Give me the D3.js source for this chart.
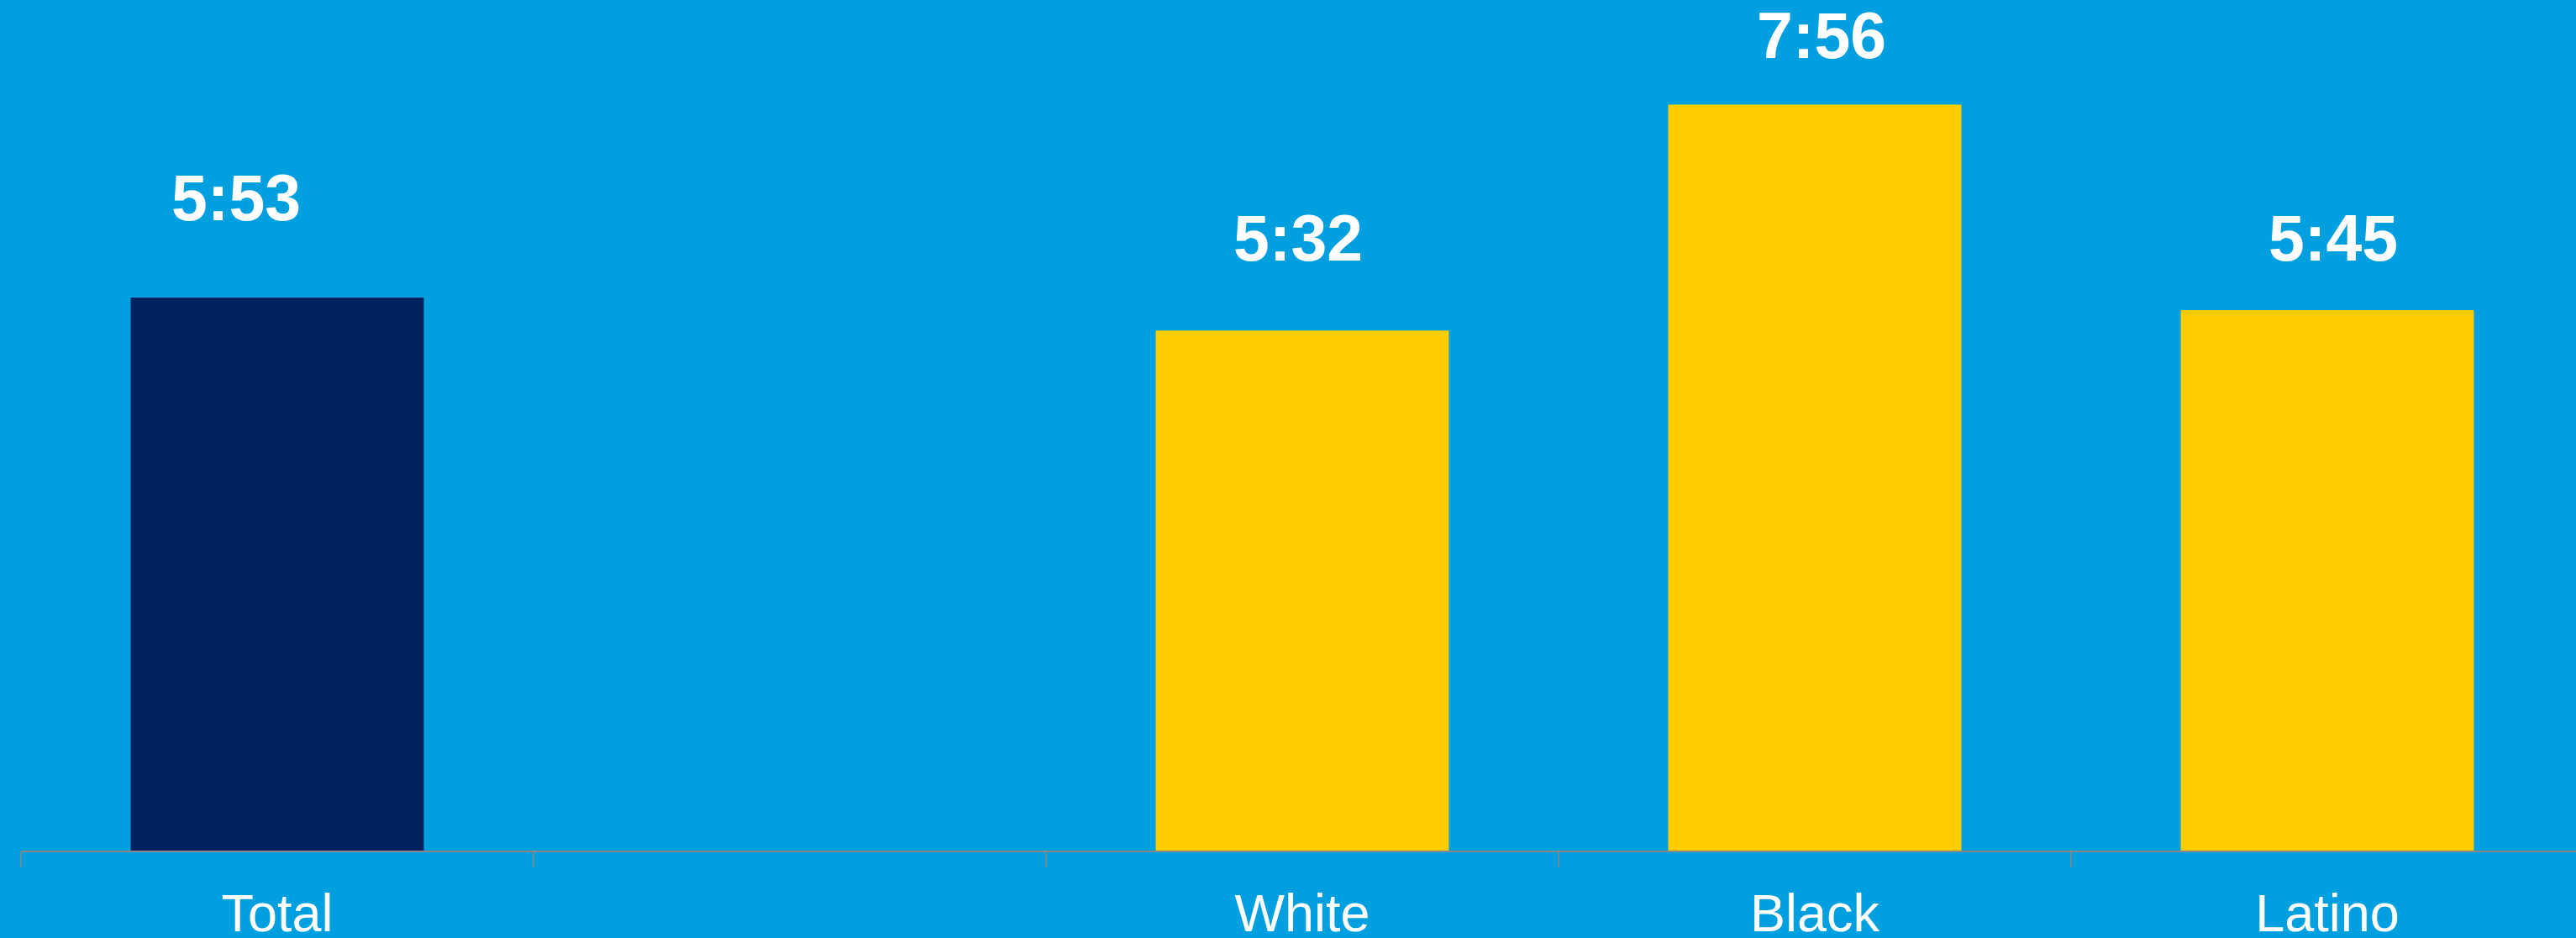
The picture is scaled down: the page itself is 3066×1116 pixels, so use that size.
<!DOCTYPE html>
<html>
<head>
<meta charset="utf-8">
<script src="https://cdn.jsdelivr.net/npm/d3@7"></script>
<style>
  html, body { margin: 0; padding: 0; background: #009FDF; }
  svg { display: block; }
</style>
</head>
<body>
<svg id="chart" width="3066" height="1116"></svg>
<script>
// ---- data ----
const categories = ["Total", "", "White", "Black", "Latino"];
const minutes = [353, null, 332, 476, 345];        // 5:53, (gap), 5:32, 7:56, 5:45
const valueLabels = ["5:53", "", "5:32", "7:56", "5:45"];
const seriesGroup = ["total", null, "race", "race", "race"];

// ---- layout / style ----
const W = 3066, H = 1116;
const baseY = 1013, topY = 5;
const xStart = 25, step = 610;
const colors = { total: "#002060", race: "#FFCC00" };
const axisColor = "#878787";
// manual label nudges (as placed in the original slide)
const labelGap = [92, 0, 83, 55, 59];
const labelDx = [-49, 0, -5, 8, 7];

const svg = d3.select("#chart");
svg.append("rect").attr("width", W).attr("height", H).attr("fill", "#009FDF");

const x = d3.scaleBand()
  .domain(categories)
  .range([xStart, xStart + step * categories.length])
  .paddingInner(0.428)
  .paddingOuter(0.214);

const y = d3.scaleLinear().domain([0, 540]).range([baseY, topY]);

const rows = categories.map((c, i) => ({ c, v: minutes[i], lab: valueLabels[i], g: seriesGroup[i], i }))
  .filter(d => d.v != null);

// bars
svg.append("g").selectAll("rect").data(rows).join("rect")
  .attr("x", d => x(d.c))
  .attr("y", d => y(d.v))
  .attr("width", x.bandwidth())
  .attr("height", d => y(0) - y(d.v))
  .attr("fill", d => colors[d.g]);

// value labels
svg.append("g").selectAll("text").data(rows).join("text")
  .attr("x", d => x(d.c) + x.bandwidth() / 2 + labelDx[d.i])
  .attr("y", d => y(d.v) - labelGap[d.i])
  .attr("text-anchor", "middle")
  .attr("fill", "#FFFFFF")
  .attr("font-family", "Liberation Sans, Arial, sans-serif")
  .attr("font-weight", "bold")
  .attr("font-size", 77)
  .text(d => d.lab);

// category axis (labels)
const axis = svg.append("g")
  .attr("transform", `translate(0,${baseY})`)
  .call(d3.axisBottom(x).tickSize(0).tickPadding(0));
axis.select(".domain").remove();
axis.selectAll("text")
  .attr("y", 95)
  .attr("dy", 0)
  .attr("fill", "#FFFFFF")
  .attr("font-family", "Liberation Sans, Arial, sans-serif")
  .attr("font-size", 63);

// axis line and boundary ticks
const bounds = d3.range(categories.length + 1).map(i => x.range()[0] + i * x.step());
svg.append("line")
  .attr("x1", bounds[0]).attr("x2", bounds[bounds.length - 1])
  .attr("y1", baseY).attr("y2", baseY)
  .attr("stroke", axisColor).attr("stroke-width", 2);
svg.append("g").selectAll("line").data(bounds).join("line")
  .attr("x1", d => d).attr("x2", d => d)
  .attr("y1", baseY).attr("y2", baseY + 19)
  .attr("stroke", axisColor).attr("stroke-width", 1.6);
</script>
</body>
</html>
